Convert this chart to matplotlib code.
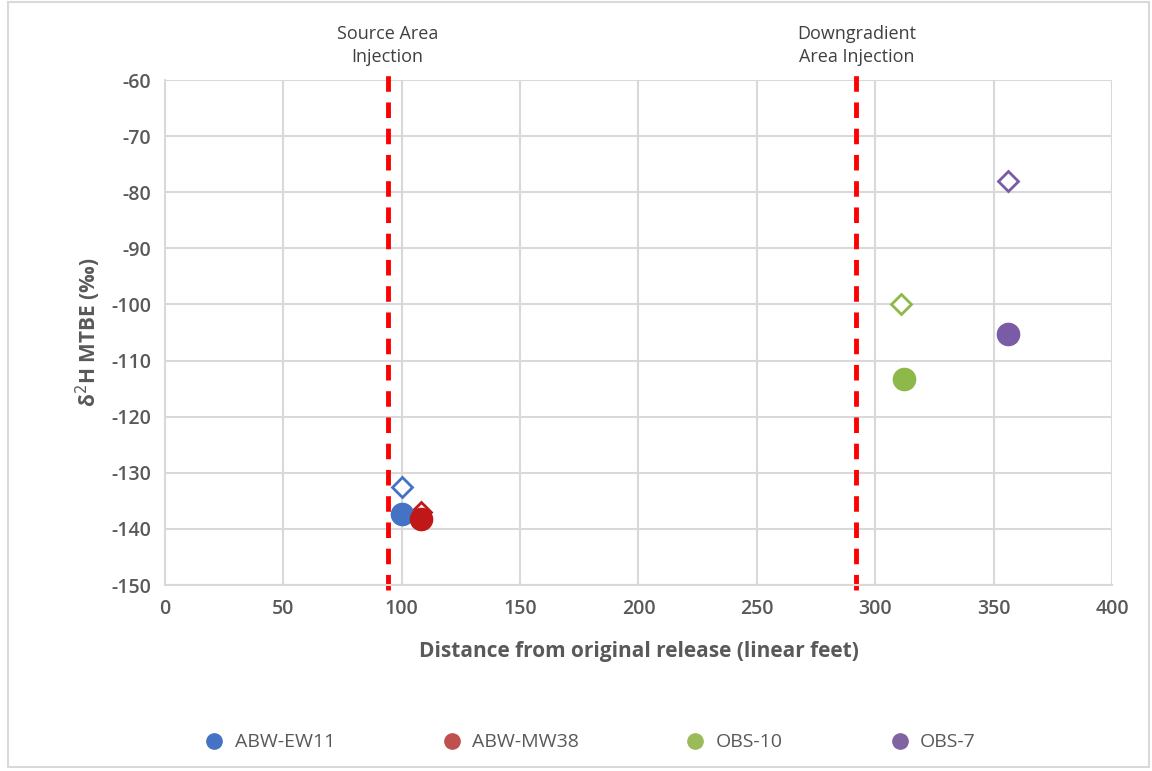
"""
Hydrogen isotope signature of MTBE vs distance from the release point.
"""

import matplotlib
matplotlib.use("Agg")
import matplotlib.pyplot as plt
from matplotlib.lines import Line2D

# wells and their colours
wells = ["ABW-EW11", "ABW-MW38", "OBS-10", "OBS-7"]
well_colors = ["#4472C4", "#C0504D", "#9BBB59", "#8064A2"]
marker_colors = ["#4472C4", "#C01818", "#8DB94A", "#7A5CA6"]

# distance (linear feet) and delta2H (per mil), filled = measured, open = second event
distance_filled = [100, 108, 312, 356]
d2h_filled = [-137.3, -138.3, -113.3, -105.3]
distance_open = [100, 108, 311, 356]
d2h_open = [-132.5, -137.0, -100.0, -78.0]

# injection locations
injection_x = [94, 292]
injection_labels = ["Source Area\nInjection", "Downgradient\nArea Injection"]

TEXT_GRAY = "#595959"
GRID_GRAY = "#D9D9D9"

plt.rcParams["font.family"] = ["Open Sans", "DejaVu Sans"]
plt.rcParams["axes.unicode_minus"] = False

fig = plt.figure(figsize=(11.52, 7.71), dpi=100)
ax = fig.add_axes([0.1432, 0.2412, 0.8221, 0.655])

ax.set_xlim(0, 400)
ax.set_ylim(-150, -60)
ax.set_xticks(range(0, 401, 50))
ax.set_yticks(range(-150, -59, 10))
ax.grid(True, color=GRID_GRAY, linewidth=1.5)
ax.set_axisbelow(True)

for side in ["top", "right"]:
    ax.spines[side].set_visible(False)
for side in ["left", "bottom"]:
    ax.spines[side].set_color(GRID_GRAY)
    ax.spines[side].set_linewidth(1.5)

ax.tick_params(axis="both", length=0, pad=10, labelsize=14, labelcolor=TEXT_GRAY)
for lbl in ax.get_xticklabels() + ax.get_yticklabels():
    lbl.set_fontweight("semibold")

ax.set_xlabel("Distance from original release (linear feet)", fontsize=15,
              fontweight="bold", color=TEXT_GRAY, labelpad=16)
ax.set_ylabel(r"δ$^2$H MTBE (‰)", fontsize=15, fontweight="bold",
              color=TEXT_GRAY, labelpad=6)

# injection lines
for xv, txt in zip(injection_x, injection_labels):
    ax.axvline(xv, ymin=-0.01, ymax=1.01, color="#FF0000", linestyle=(0, (3.2, 2.2)),
               linewidth=3.5, clip_on=False, zorder=2)
    ax.text(xv, -57.5, txt, ha="center", va="bottom", fontsize=13,
            color="#404040", linespacing=1.35)

# open diamonds
for x, y, c in zip(distance_open, d2h_open, marker_colors):
    ax.plot(x, y, marker="D", markersize=10, markerfacecolor="white",
            markeredgecolor=c, markeredgewidth=2, linestyle="none", zorder=3)

# filled circles
for x, y, c in zip(distance_filled, d2h_filled, marker_colors):
    ax.plot(x, y, marker="o", markersize=16, color=c, linestyle="none", zorder=4)

handles = [Line2D([], [], marker="o", linestyle="none", markersize=11, color=c)
           for c in well_colors]
fig.legend(handles, wells, loc="center", bbox_to_anchor=(0.508, 0.037), ncol=4,
           frameon=False, fontsize=14, handletextpad=0.05, columnspacing=5.0,
           labelcolor=TEXT_GRAY)

# chart border
fig.patches.append(plt.Rectangle((0.007, 0.005), 0.99, 0.993, transform=fig.transFigure,
                                 fill=False, edgecolor="#D9D9D9", linewidth=1.5))

fig.savefig("out.png", dpi=100)
